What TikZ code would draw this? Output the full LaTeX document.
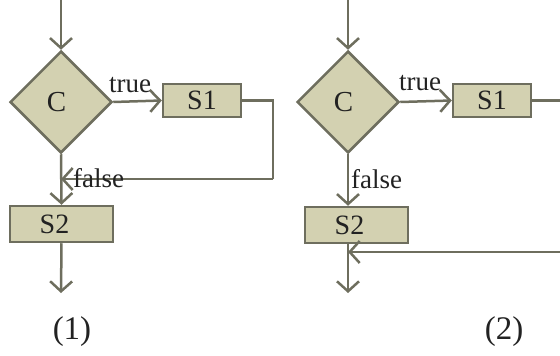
\documentclass[tikz,border=0pt]{standalone}
\usepackage{fontspec}
\setmainfont{Liberation Serif}
\usetikzlibrary{shapes.geometric,arrows.meta}
\definecolor{boxfill}{HTML}{D3D1B1}
\definecolor{linecol}{HTML}{6E6E5E}
\definecolor{txtcol}{HTML}{222222}
\begin{document}
\begin{tikzpicture}[x=1pt,y=-1pt,
  every node/.style={text=txtcol},
  cond/.style={diamond,draw=linecol,fill=boxfill,line width=2.5pt,aspect=1,minimum width=102pt,minimum height=102pt,inner sep=0pt,font=\fontsize{29}{29}\selectfont},
  stmt/.style={rectangle,draw=linecol,fill=boxfill,line width=2.5pt,inner sep=0pt,font=\fontsize{28}{28}\selectfont},
  flow/.style={draw=linecol,line width=2.5pt},
  arr/.style={flow,-{Straight Barb[length=10pt,width=22pt,line width=2.5pt]}},
  lbl/.style={font=\fontsize{27}{27}\selectfont,inner sep=0pt},
  captext/.style={font=\fontsize{33}{33}\selectfont,inner sep=0pt}]
\useasboundingbox (0,0) rectangle (560,356);
% ---------- diagram (1) ----------
\coordinate (top1) at (61,0);
\node[cond] (d1) at (61,102) {C\kern9pt};
\node[stmt,minimum width=78pt,minimum height=33pt] (s1a) at (202,100.5) {S1};
\node[stmt,minimum width=103pt,minimum height=36pt] (s2a) at (61.5,224) {S2\kern14pt};
\coordinate (m1) at (61,179);
\coordinate (r1) at (273,100.5);
\coordinate (rb1) at (273,179);
\coordinate (out1) at (61,293);
\draw[arr] (top1) -- (d1.north);
\draw[arr] (d1.east) -- (s1a.west);
\draw[flow] (s1a.east) -- (r1) -- (rb1);
\draw[arr] (rb1) -- (m1);
\draw[arr] (d1.south) -- (s2a.north);
\draw[arr] (s2a.south) -- (out1);
\node[lbl,anchor=west] (t1) at (109,85) {true};
\node[lbl,anchor=west] (f1) at (73,178) {false};
\node[captext] (c1) at (72,332) {(1)};
% ---------- diagram (2) ----------
\coordinate (top2) at (348,0);
\node[cond] (d2) at (348,102) {C\kern9pt};
\node[stmt,minimum width=78pt,minimum height=33pt] (s1b) at (492,100.5) {S1};
\node[stmt,minimum width=103pt,minimum height=36pt] (s2b) at (356.5,225) {S2\kern14pt};
\coordinate (e2) at (560,100.5);
\coordinate (rin2) at (560,252);
\coordinate (m2) at (348,252);
\coordinate (out2) at (348,293);
\draw[arr] (top2) -- (d2.north);
\draw[arr] (d2.east) -- (s1b.west);
\draw[flow] (s1b.east) -- (e2);
\draw[arr] (d2.south) -- (d2.south |- s2b.north);
\draw[arr] (rin2) -- (m2);
\draw[arr] (m2 |- s2b.south) -- (out2);
\node[lbl,anchor=west] (t2) at (399,83) {true};
\node[lbl,anchor=west] (f2) at (351,179) {false};
\node[captext] (c2) at (504,332) {(2)};
\end{tikzpicture}
\end{document}
